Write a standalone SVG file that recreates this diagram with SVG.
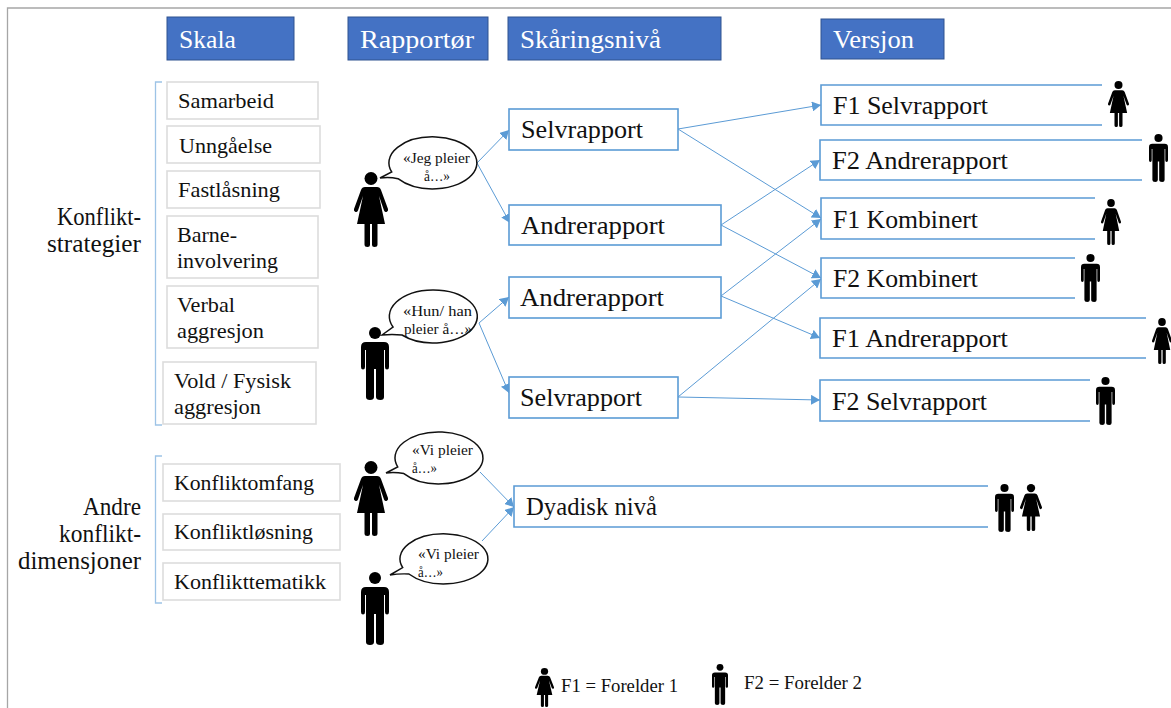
<svg xmlns="http://www.w3.org/2000/svg" width="1171" height="708" viewBox="0 0 1171 708">
<style>
text{font-family:"Liberation Serif","Times New Roman",serif;fill:#111}
.h{fill:#4472c4;stroke:#2f528f;stroke-width:1}
.ht{fill:#fff;font-size:26px}
.s{fill:#fff;stroke:#dcdcdc;stroke-width:1.6}
.st{font-size:22px}
.sl{font-size:25px;text-anchor:end}
.b{fill:#fff;stroke:#5b9bd5;stroke-width:1.6}
.o{fill:#fff;stroke:#5b9bd5;stroke-width:1.6}
.bt{font-size:25px}
.q{fill:#fff;stroke:#111;stroke-width:1.5}
.qt{font-size:15.500px}
.lg{font-size:18px}
.c{fill:none;stroke:#5b9bd5;stroke-width:1;marker-end:url(#a)}
.br{fill:none;stroke:#9dc3e6;stroke-width:1.300}
</style>
<defs>
<marker id="a" markerUnits="userSpaceOnUse" markerWidth="10" markerHeight="10" refX="9" refY="5" orient="auto"><path d="M0,0L9,5L0,10Z" fill="#5b9bd5"/></marker>
<symbol id="w" viewBox="0 0 34 75" preserveAspectRatio="none"><circle cx="17" cy="6.500" r="6.500"/><path d="M11,15H23Q26,15 27,18L34,37Q34.500,39 32.500,40Q31,40.500 30,38.500L25,24L31,52H23.500V72.500Q23.500,75 20.500,75Q18,75 18,72.500V52H16V72.500Q16,75 13.500,75Q10.500,75 10.500,72.500V52H3L9,24L4,38.500Q3,40.500 1.500,40Q-.5,39 0,37L7,18Q8,15 11,15Z"/></symbol>
<symbol id="m" viewBox="0 0 28 73" preserveAspectRatio="none"><circle cx="14" cy="6" r="6"/><path d="M5,15H23Q28,15 28,20V40Q28,42.500 26,42.500Q24,42.500 24,40V23H23V70Q23,73 19.500,73Q15,73 15,70V42H13V70Q13,73 9,73Q5,73 5,70V23H4V40Q4,42.500 2,42.500Q0,42.500 0,40V20Q0,15 5,15Z"/></symbol>
</defs>
<rect width="1171" height="708" fill="#fff"/>
<path d="M7.500,708V8H1171" fill="none" stroke="#a6a6a6" stroke-width="1.300"/>

<g id="connectors">
<path class="c" d="M477,163L509,130"/><path class="c" d="M477,163L510,223"/>
<path class="c" d="M479,323L509,297"/><path class="c" d="M479,323L509,393"/>
<path class="c" d="M480,472L514,507"/><path class="c" d="M482,541L514,507"/>
<path class="c" d="M678,129L821,105"/><path class="c" d="M678,129L821,218"/>
<path class="c" d="M721,225L820,160"/><path class="c" d="M721,225L821,278"/>
<path class="c" d="M721,296L821,219"/><path class="c" d="M721,296L820,338"/>
<path class="c" d="M678,397L821,279"/><path class="c" d="M678,397L820,400"/>
</g>

<g id="h-skala"><rect class="h" x="167" y="17" width="127" height="43"/><text class="ht" x="179" y="48" textLength="57" lengthAdjust="spacingAndGlyphs">Skala</text></g>
<g id="h-rapportor"><rect class="h" x="348" y="17" width="140" height="43"/><text class="ht" x="360" y="48" textLength="114" lengthAdjust="spacingAndGlyphs">Rapportør</text></g>
<g id="h-skaring"><rect class="h" x="508" y="17" width="213" height="43"/><text class="ht" x="520" y="48" textLength="141" lengthAdjust="spacingAndGlyphs">Skåringsnivå</text></g>
<g id="h-versjon"><rect class="h" x="821" y="19" width="123" height="40"/><text class="ht" x="833" y="48" textLength="81" lengthAdjust="spacingAndGlyphs">Versjon</text></g>

<g id="bracket-1"><path class="br" d="M162,82H155.500V425H162"/><text class="sl" x="141" y="225" textLength="84" lengthAdjust="spacingAndGlyphs">Konflikt-</text><text class="sl" x="141" y="252" textLength="94" lengthAdjust="spacingAndGlyphs">strategier</text></g>
<g id="bracket-2"><path class="br" d="M162,456H155.500V603H162"/><text class="sl" x="141" y="515" textLength="58" lengthAdjust="spacingAndGlyphs">Andre</text><text class="sl" x="141" y="542" textLength="82" lengthAdjust="spacingAndGlyphs">konflikt-</text><text class="sl" x="141" y="569" textLength="123" lengthAdjust="spacingAndGlyphs">dimensjoner</text></g>

<g id="s-samarbeid"><rect class="s" x="167" y="82" width="151" height="37"/><text class="st" x="178" y="108" textLength="96" lengthAdjust="spacingAndGlyphs">Samarbeid</text></g>
<g id="s-unngaelse"><rect class="s" x="167" y="126" width="153" height="37"/><text class="st" x="179" y="153" textLength="93" lengthAdjust="spacingAndGlyphs">Unngåelse</text></g>
<g id="s-fastlasning"><rect class="s" x="167" y="171" width="153" height="37"/><text class="st" x="178" y="197" textLength="102" lengthAdjust="spacingAndGlyphs">Fastlåsning</text></g>
<g id="s-barne"><rect class="s" x="167" y="216" width="151" height="62"/><text class="st" x="177" y="242" textLength="60" lengthAdjust="spacingAndGlyphs">Barne-</text><text class="st" x="177" y="268" textLength="101" lengthAdjust="spacingAndGlyphs">involvering</text></g>
<g id="s-verbal"><rect class="s" x="167" y="286" width="151" height="62"/><text class="st" x="177" y="312" textLength="58" lengthAdjust="spacingAndGlyphs">Verbal</text><text class="st" x="177" y="338" textLength="87" lengthAdjust="spacingAndGlyphs">aggresjon</text></g>
<g id="s-vold"><rect class="s" x="163" y="362" width="153" height="62"/><text class="st" x="174" y="388" textLength="117" lengthAdjust="spacingAndGlyphs">Vold / Fysisk</text><text class="st" x="174" y="414" textLength="87" lengthAdjust="spacingAndGlyphs">aggresjon</text></g>
<g id="s-omfang"><rect class="s" x="163" y="464" width="177" height="37"/><text class="st" x="174" y="490" textLength="140" lengthAdjust="spacingAndGlyphs">Konfliktomfang</text></g>
<g id="s-losning"><rect class="s" x="163" y="514" width="177" height="36"/><text class="st" x="174" y="539" textLength="139" lengthAdjust="spacingAndGlyphs">Konfliktløsning</text></g>
<g id="s-tematikk"><rect class="s" x="163" y="563" width="177" height="37"/><text class="st" x="174" y="589" textLength="152" lengthAdjust="spacingAndGlyphs">Konflikttematikk</text></g>

<g id="r-jeg"><use href="#w" x="354" y="172" width="34" height="75"/><path class="q" d="M380,178L391.700,172A44,26 0 1 1 398,178.700Q389,176.500 380,178Z"/><text class="qt" x="403" y="163" textLength="67" lengthAdjust="spacingAndGlyphs">«Jeg pleier</text><text class="qt" x="424" y="181" textLength="26" lengthAdjust="spacingAndGlyphs">å…»</text></g>
<g id="r-hun"><use href="#m" x="361" y="327" width="28" height="73"/><path class="q" d="M382,335L393,327A44,26.500 0 1 1 402,335Q392,334 382,335Z"/><text class="qt" x="403" y="316" textLength="69" lengthAdjust="spacingAndGlyphs">«Hun/ han</text><text class="qt" x="404" y="334" textLength="68" lengthAdjust="spacingAndGlyphs">pleier å…»</text></g>
<g id="r-vi1"><use href="#w" x="354" y="461" width="34" height="75"/><path class="q" d="M386,473L397.700,466.900A44,26 0 1 1 403.900,473.600Q395,472 386,473Z"/><text class="qt" x="412" y="455" textLength="61" lengthAdjust="spacingAndGlyphs">«Vi pleier</text><text class="qt" x="412" y="473" textLength="25" lengthAdjust="spacingAndGlyphs">å…»</text></g>
<g id="r-vi2"><use href="#m" x="361" y="572" width="28" height="73"/><path class="q" d="M390,575L402.700,567.600A44,25 0 1 1 408.900,574Q399,573.500 390,575Z"/><text class="qt" x="418" y="559" textLength="61" lengthAdjust="spacingAndGlyphs">«Vi pleier</text><text class="qt" x="418" y="577" textLength="25" lengthAdjust="spacingAndGlyphs">å…»</text></g>

<g id="l-selv1"><rect class="b" x="509" y="109" width="169" height="41"/><text class="bt" x="521" y="138" textLength="122" lengthAdjust="spacingAndGlyphs">Selvrapport</text></g>
<g id="l-andre1"><rect class="b" x="509" y="205" width="212" height="40"/><text class="bt" x="521" y="234" textLength="144" lengthAdjust="spacingAndGlyphs">Andrerapport</text></g>
<g id="l-andre2"><rect class="b" x="509" y="277" width="212" height="41"/><text class="bt" x="520" y="306" textLength="144" lengthAdjust="spacingAndGlyphs">Andrerapport</text></g>
<g id="l-selv2"><rect class="b" x="509" y="377" width="169" height="41"/><text class="bt" x="520" y="406" textLength="122" lengthAdjust="spacingAndGlyphs">Selvrapport</text></g>
<g id="l-dyadisk"><path class="o" d="M988,486H514V527H988"/><text class="bt" x="526" y="515" textLength="131" lengthAdjust="spacingAndGlyphs">Dyadisk nivå</text><use href="#m" x="995" y="484" width="19" height="48"/><use href="#w" x="1020" y="484" width="22" height="47"/></g>

<g id="v-f1selv"><path class="o" d="M1102,85H821V125H1102"/><text class="bt" x="833" y="114" textLength="155" lengthAdjust="spacingAndGlyphs">F1 Selvrapport</text><use href="#w" x="1108" y="81" width="21" height="46"/></g>
<g id="v-f2andre"><path class="o" d="M1142,140H820V180H1142"/><text class="bt" x="832" y="169" textLength="176" lengthAdjust="spacingAndGlyphs">F2 Andrerapport</text><use href="#m" x="1149" y="134" width="19" height="48"/></g>
<g id="v-f1komb"><path class="o" d="M1095,198H821V239H1095"/><text class="bt" x="833" y="228" textLength="145" lengthAdjust="spacingAndGlyphs">F1 Kombinert</text><use href="#w" x="1101" y="199" width="20" height="46"/></g>
<g id="v-f2komb"><path class="o" d="M1075,258H821V298H1075"/><text class="bt" x="833" y="287" textLength="145" lengthAdjust="spacingAndGlyphs">F2 Kombinert</text><use href="#m" x="1081" y="254" width="19" height="48"/></g>
<g id="v-f1andre"><path class="o" d="M1146,318H820V358H1146"/><text class="bt" x="832" y="347" textLength="176" lengthAdjust="spacingAndGlyphs">F1 Andrerapport</text><use href="#w" x="1152" y="318" width="20" height="46"/></g>
<g id="v-f2selv"><path class="o" d="M1090,380H820V421H1090"/><text class="bt" x="832" y="410" textLength="155" lengthAdjust="spacingAndGlyphs">F2 Selvrapport</text><use href="#m" x="1096" y="377" width="19" height="48"/></g>

<g id="legend-f1"><use href="#w" x="535" y="668" width="19" height="39"/><text class="lg" x="561" y="692" textLength="117" lengthAdjust="spacingAndGlyphs">F1 = Forelder 1</text></g>
<g id="legend-f2"><use href="#m" x="712" y="664" width="16" height="41"/><text class="lg" x="744" y="689" textLength="118" lengthAdjust="spacingAndGlyphs">F2 = Forelder 2</text></g>
</svg>
